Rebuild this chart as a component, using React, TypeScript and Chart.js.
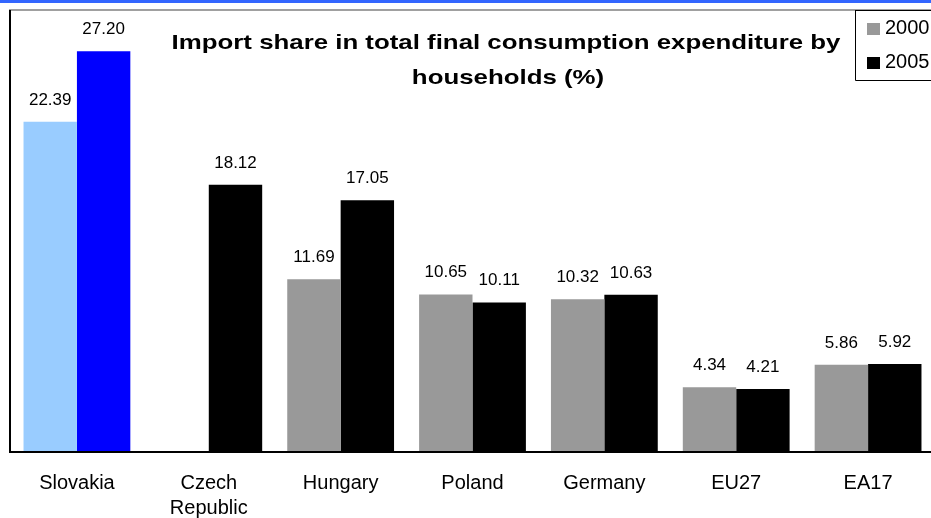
import React, { useEffect, useRef } from "react";
import { Chart, registerables } from "chart.js";

Chart.register(...registerables);

const categories: (string | string[])[] = ["Slovakia", ["Czech", "Republic"], "Hungary", "Poland", "Germany", "EU27", "EA17"];
const series2000: (number | null)[] = [22.39, null, 11.69, 10.65, 10.32, 4.34, 5.86];
const series2005: number[] = [27.2, 18.12, 17.05, 10.11, 10.63, 4.21, 5.92];
const seriesLabels = ["2000", "2005"];
const titleLines = ["Import share in total final consumption expenditure by", "households (%)"];

const FONT = '"Liberation Sans", Arial, sans-serif';
const GRAY = "#999999";
const BLACK = "#000000";
const colors2000 = categories.map((_, i) => (i === 0 ? "#99ccff" : GRAY));
const colors2005 = categories.map((_, i) => (i === 0 ? "#0000ff" : BLACK));

const decorPlugin = {
  id: "decor",
  afterDatasetsDraw(chart: any) {
    const ctx = chart.ctx;
    const area = chart.chartArea;
    ctx.save();
    // value labels
    ctx.font = `17px ${FONT}`;
    ctx.fillStyle = "#000";
    ctx.textAlign = "center";
    ctx.textBaseline = "alphabetic";
    chart.data.datasets.forEach((ds: any, di: number) => {
      const meta = chart.getDatasetMeta(di);
      meta.data.forEach((bar: any, i: number) => {
        const v = ds.data[i];
        if (v === null || v === undefined) return;
        ctx.fillText(Number(v).toFixed(2), bar.x, bar.y - 17);
      });
    });
    // frame
    ctx.lineWidth = 2;
    ctx.strokeStyle = "#a0a0a0";
    ctx.beginPath();
    ctx.moveTo(9, area.top);
    ctx.lineTo(chart.width, area.top);
    ctx.stroke();
    ctx.strokeStyle = "#000";
    ctx.beginPath();
    ctx.moveTo(10, area.top);
    ctx.lineTo(10, area.bottom + 1);
    ctx.lineTo(chart.width, area.bottom + 1);
    ctx.stroke();
    // title
    ctx.fillStyle = "#000";
    ctx.font = `bold 21px ${FONT}`;
    ctx.textAlign = "center";
    const centers = [506, 508];
    const baselines = [48.5, 83.5];
    titleLines.forEach((line, i) => {
      ctx.save();
      ctx.translate(centers[i], baselines[i]);
      ctx.scale(1.23, 1);
      ctx.fillText(line, 0, 0);
      ctx.restore();
    });
    // legend
    ctx.fillStyle = "#fff";
    ctx.fillRect(855, area.top, chart.width - 855, 70);
    ctx.lineWidth = 1;
    ctx.strokeStyle = "#000";
    ctx.beginPath();
    ctx.moveTo(855.5, area.top);
    ctx.lineTo(855.5, 80.5);
    ctx.lineTo(chart.width, 80.5);
    ctx.moveTo(855, area.top + 0.5);
    ctx.lineTo(chart.width, area.top + 0.5);
    ctx.stroke();
    const legendColors = [GRAY, BLACK];
    const legendY = [23, 57];
    ctx.font = `20px ${FONT}`;
    ctx.textAlign = "left";
    seriesLabels.forEach((lab, i) => {
      ctx.fillStyle = legendColors[i];
      ctx.fillRect(867, legendY[i], 13, 12);
      ctx.fillStyle = "#000";
      ctx.fillText(lab, 885, legendY[i] + 10.5);
    });
    // top blue band
    ctx.fillStyle = "#3366ff";
    ctx.fillRect(0, 0, chart.width, 3);
    ctx.restore();
  },
};

export default function App() {
  const ref = useRef<HTMLCanvasElement | null>(null);
  useEffect(() => {
    if (!ref.current) return;
    const chart = new Chart(ref.current, {
      type: "bar",
      data: {
        labels: categories,
        datasets: [
          { label: seriesLabels[0], data: series2000, backgroundColor: colors2000, borderWidth: 0 },
          { label: seriesLabels[1], data: series2005, backgroundColor: colors2005, borderWidth: 0 },
        ],
      },
      options: {
        responsive: false,
        animation: false,
        devicePixelRatio: 1,
        layout: { padding: { left: 11, right: 6, top: 10, bottom: 0 } },
        datasets: { bar: { categoryPercentage: 0.81, barPercentage: 1 } },
        plugins: { legend: { display: false }, title: { display: false }, tooltip: { enabled: false } },
        scales: {
          x: {
            grid: { display: false, drawTicks: false },
            border: { display: false },
            ticks: { color: "#000", font: { family: FONT, size: 20, lineHeight: 1.25 }, padding: 20, maxRotation: 0, autoSkip: false },
            afterFit: (scale: any) => {
              scale.height = 67;
            },
          },
          y: { display: false, min: 0, max: 30 },
        },
      },
      plugins: [decorPlugin],
    });
    return () => chart.destroy();
  }, []);
  return (
    <div style={{ position: "fixed", left: 0, top: 0, width: 931, height: 518, overflow: "hidden", background: "#fff" }}>
      <canvas ref={ref} width={940} height={518} style={{ display: "block" }} />
    </div>
  );
}
